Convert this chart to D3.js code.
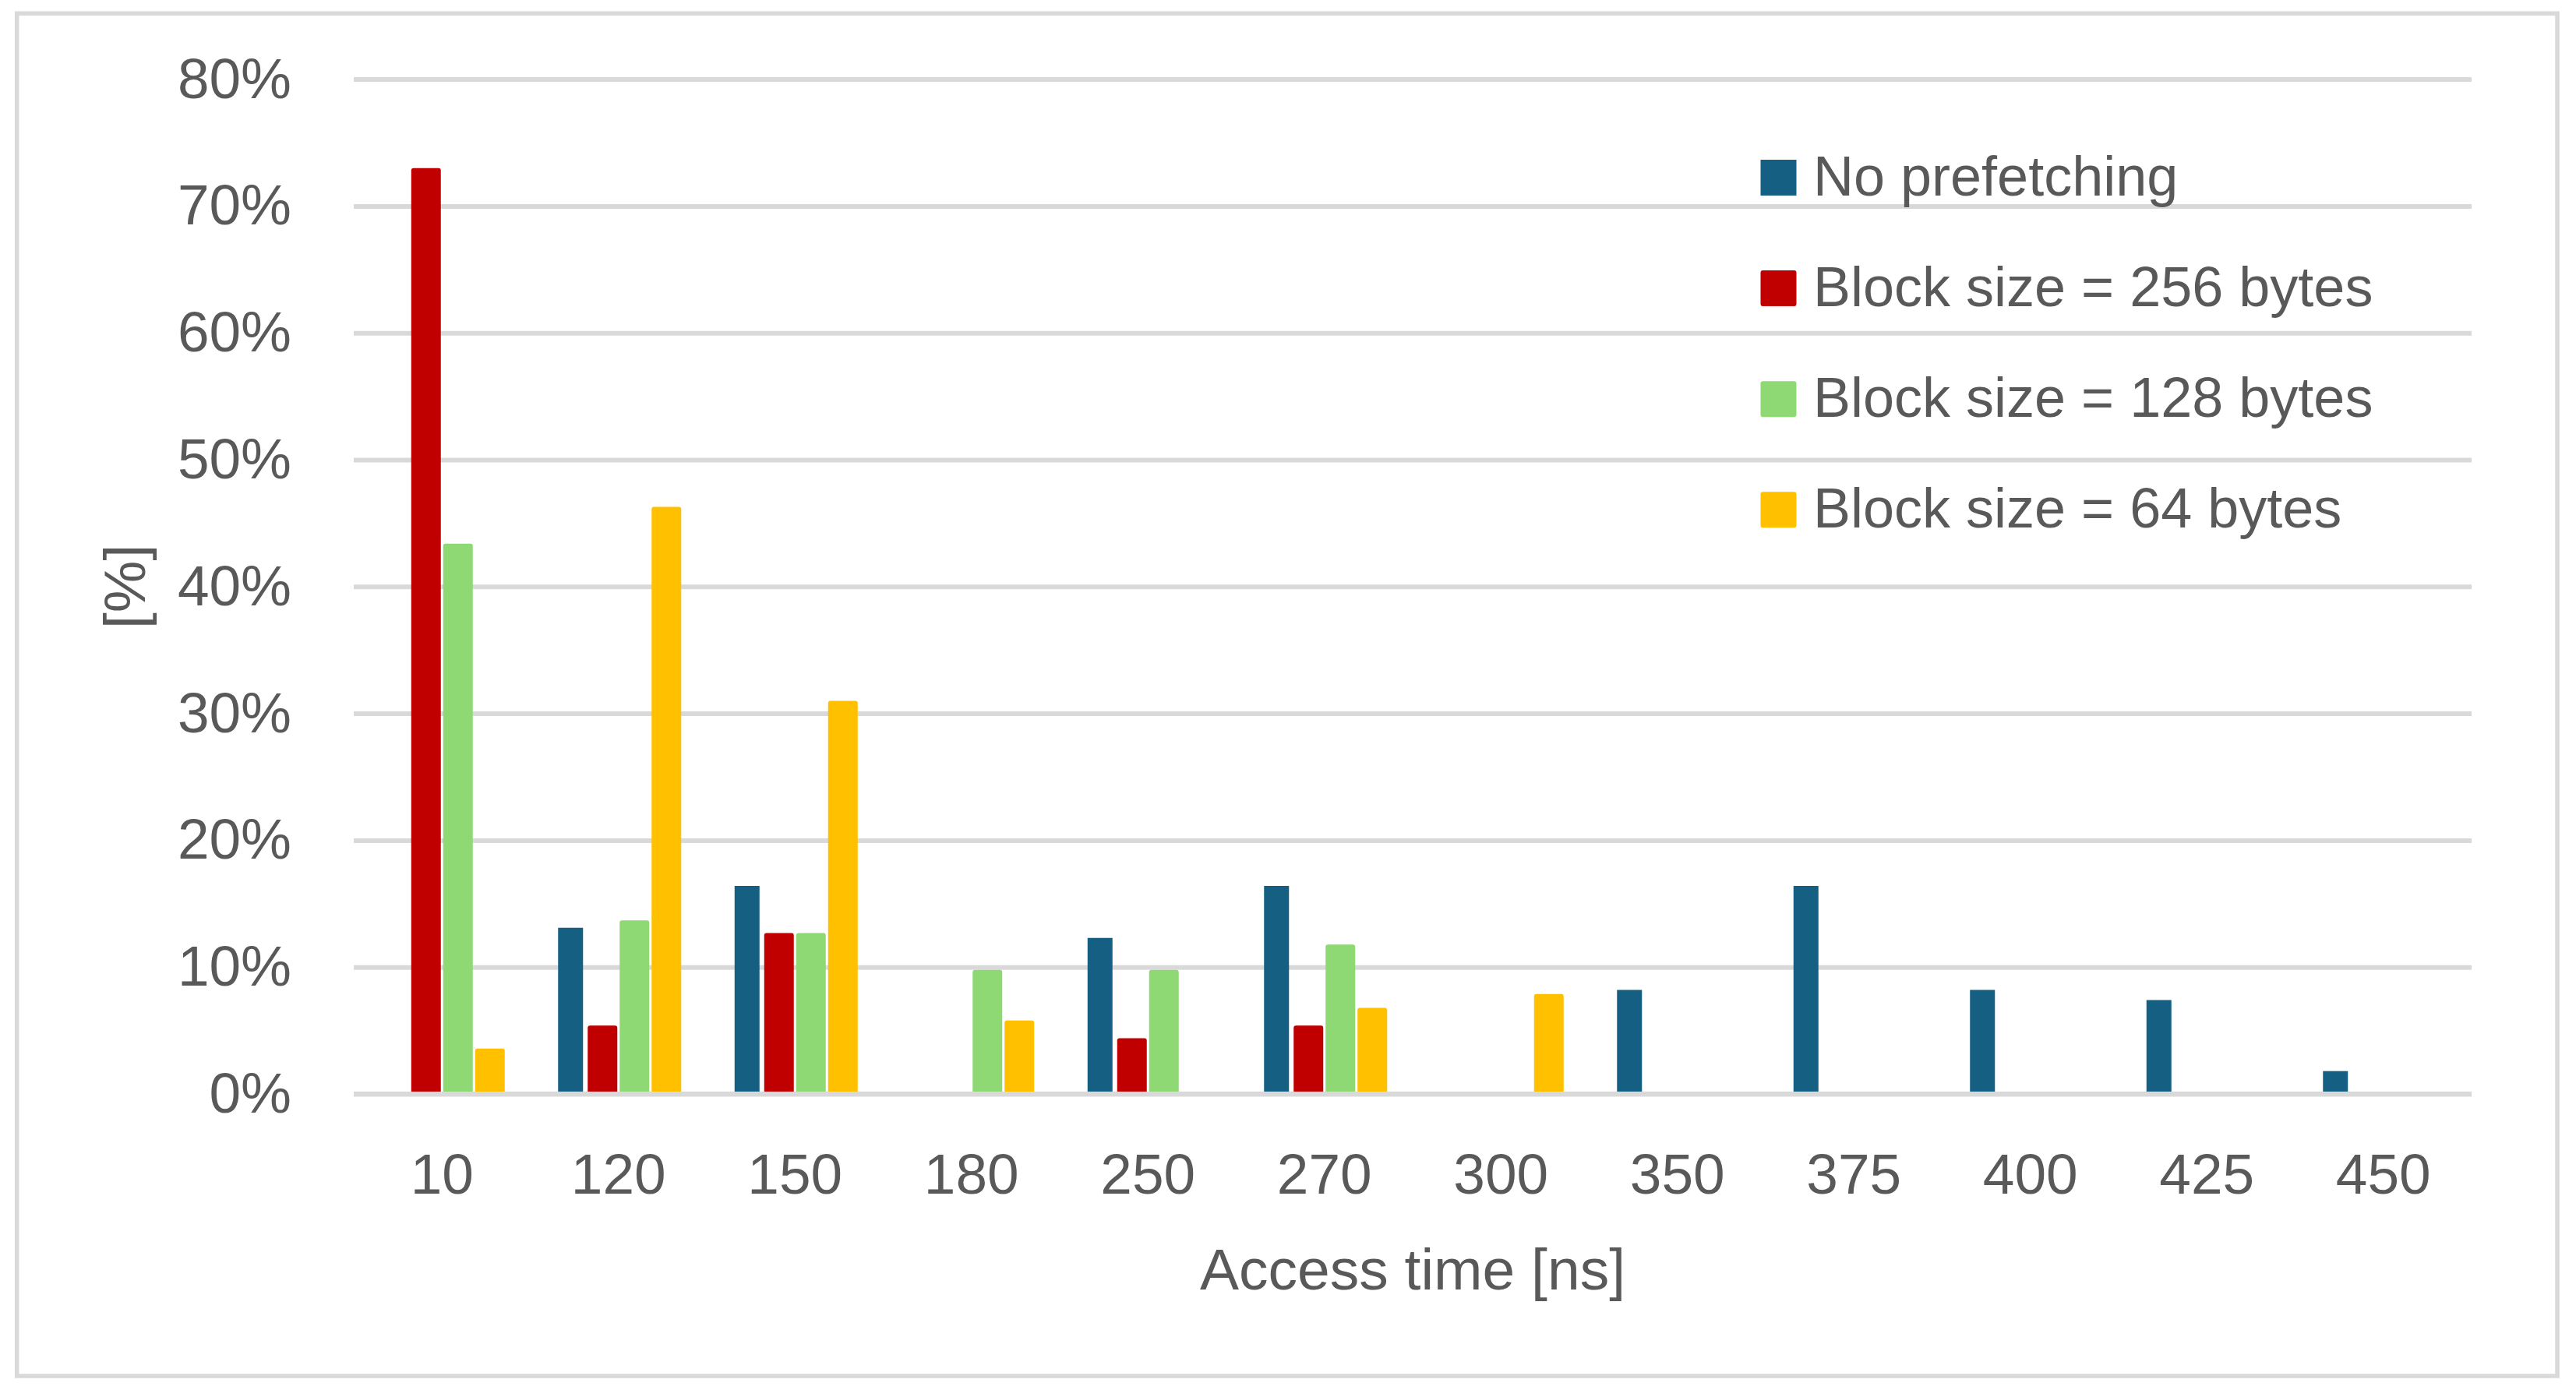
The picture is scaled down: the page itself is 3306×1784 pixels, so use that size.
<!DOCTYPE html>
<html>
<head>
<meta charset="utf-8">
<script src="https://cdn.jsdelivr.net/npm/d3@7"></script>
<style>
  html, body { margin: 0; padding: 0; background: #ffffff; }
  svg { display: block; }
  text { font-family: "Liberation Sans", Arial, sans-serif; fill: #595959; }
</style>
</head>
<body>
<svg id="chart" width="3306" height="1784"></svg>
<script>
// ---------------- data ----------------
const categories = ["10", "120", "150", "180", "250", "270", "300", "350", "375", "400", "425", "450"];
const seriesNames = ["No prefetching", "Block size = 256 bytes", "Block size = 128 bytes", "Block size = 64 bytes"];
const noPrefetching = [0, 13.1, 16.4, 0, 12.3, 16.4, 0, 8.2, 16.4, 8.2, 7.4, 1.8];
const block256 = [72.8, 5.2, 12.5, 0, 4.2, 5.2, 0, 0, 0, 0, 0, 0];
const block128 = [43.2, 13.5, 12.5, 9.6, 9.6, 11.6, 0, 0, 0, 0, 0, 0];
const block64 = [3.4, 46.1, 30.8, 5.6, 0, 6.6, 7.7, 0, 0, 0, 0, 0];
const yTicks = [0, 10, 20, 30, 40, 50, 60, 70, 80];
const seriesColors = ["#156082", "#C00000", "#8ED973", "#FFC000"];
const seriesOutlined = [false, true, true, true];
const xTitle = "Access time [ns]";
const yTitle = "[%]";

const seriesValues = [noPrefetching, block256, block128, block64];

// ---------------- layout ----------------
const W = 3306, H = 1784;
const plotLeft = 454, plotRight = 3172, plotTop = 101.6, plotBottom = 1404;
const gridColor = "#D9D9D9";
const gridWidth = 6;
const tickFont = 73, legendFont = 72, titleFont = 75;

const svg = d3.select("#chart");
svg.append("rect").attr("x", 0).attr("y", 0).attr("width", W).attr("height", H).attr("fill", "#ffffff");

// chart frame
svg.append("rect")
  .attr("x", 21.7).attr("y", 17.2)
  .attr("width", 3282 - 21.7).attr("height", 1766 - 17.2)
  .attr("fill", "none").attr("stroke", gridColor).attr("stroke-width", 5.5);

const y = d3.scaleLinear().domain([0, 80]).range([plotBottom, plotTop]);
const x0 = d3.scaleBand().domain(categories).range([plotLeft, plotRight]).padding(0);
const slotStep = 41, slotW = 38;
const groupW = slotStep * 4 - (slotStep - slotW);
const groupOff = (x0.bandwidth() - groupW) / 2;
const x1 = d3.scaleBand().domain(d3.range(4)).range([groupOff, groupOff + groupW])
  .paddingInner((slotStep - slotW) / slotStep).paddingOuter(0);

// y axis + gridlines
const yAxis = d3.axisLeft(y)
  .tickValues(yTicks)
  .tickSize(-(plotRight - plotLeft))
  .tickPadding(plotLeft - 374)
  .tickFormat(d => d + "%");
const gy = svg.append("g").attr("transform", `translate(${plotLeft},0)`).call(yAxis);
gy.select(".domain").remove();
gy.selectAll(".tick line").attr("stroke", gridColor).attr("stroke-width", gridWidth);
gy.selectAll(".tick text")
  .attr("dy", null).attr("y", 23.5)
  .style("font-size", tickFont + "px").style("fill", "#595959");

// bars
const inset = 3;
const barData = [];
categories.forEach((c, ci) => {
  seriesValues.forEach((vals, si) => {
    if (vals[ci] > 0) barData.push({ cat: c, s: si, v: vals[ci] });
  });
});
svg.append("g").selectAll("rect").data(barData).join("rect")
  .attr("x", d => x0(d.cat) + x1(d.s) + inset)
  .attr("width", x1.bandwidth() - 2 * inset)
  .attr("y", d => y(d.v))
  .attr("height", d => y(0) - y(d.v))
  .attr("fill", d => seriesColors[d.s])
  .attr("stroke", d => seriesOutlined[d.s] ? seriesColors[d.s] : "none")
  .attr("stroke-width", 2 * inset)
  .attr("stroke-linejoin", "round");

// baseline on top
svg.append("line")
  .attr("x1", plotLeft).attr("x2", plotRight)
  .attr("y1", y(0)).attr("y2", y(0))
  .attr("stroke", gridColor).attr("stroke-width", gridWidth);

// x axis labels
const xAxis = d3.axisBottom(x0).tickSize(0).tickPadding(0);
const gx = svg.append("g").attr("transform", `translate(0,${y(0)})`).call(xAxis);
gx.select(".domain").remove();
gx.selectAll(".tick text")
  .attr("dy", null).attr("y", 1532 - plotBottom)
  .style("font-size", tickFont + "px").style("fill", "#595959");

// axis titles
svg.append("text")
  .attr("x", (plotLeft + plotRight) / 2).attr("y", 1654.5)
  .attr("text-anchor", "middle")
  .style("font-size", titleFont + "px")
  .text(xTitle);
svg.append("text")
  .attr("transform", `translate(186,${(plotTop + plotBottom) / 2}) rotate(-90)`)
  .attr("text-anchor", "middle")
  .style("font-size", titleFont + "px")
  .text(yTitle);

// legend
const legendX = 2259.5, legendSq = 46, legendTextX = 2327;
const legendY = d3.scalePoint().domain(d3.range(4)).range([228, 654.3]);
const lg = svg.append("g").selectAll("g").data(seriesNames).join("g")
  .attr("transform", (d, i) => `translate(0,${legendY(i)})`);
lg.append("rect")
  .attr("x", (d, i) => legendX + (seriesOutlined[i] ? inset : 0))
  .attr("y", (d, i) => -legendSq / 2 + (seriesOutlined[i] ? inset : 0))
  .attr("width", (d, i) => legendSq - (seriesOutlined[i] ? 2 * inset : 0))
  .attr("height", (d, i) => legendSq - (seriesOutlined[i] ? 2 * inset : 0))
  .attr("fill", (d, i) => seriesColors[i])
  .attr("stroke", (d, i) => seriesOutlined[i] ? seriesColors[i] : "none")
  .attr("stroke-width", 2 * inset)
  .attr("stroke-linejoin", "round");
lg.append("text")
  .attr("x", legendTextX).attr("y", 22.7)
  .style("font-size", legendFont + "px")
  .text(d => d);
</script>
</body>
</html>
